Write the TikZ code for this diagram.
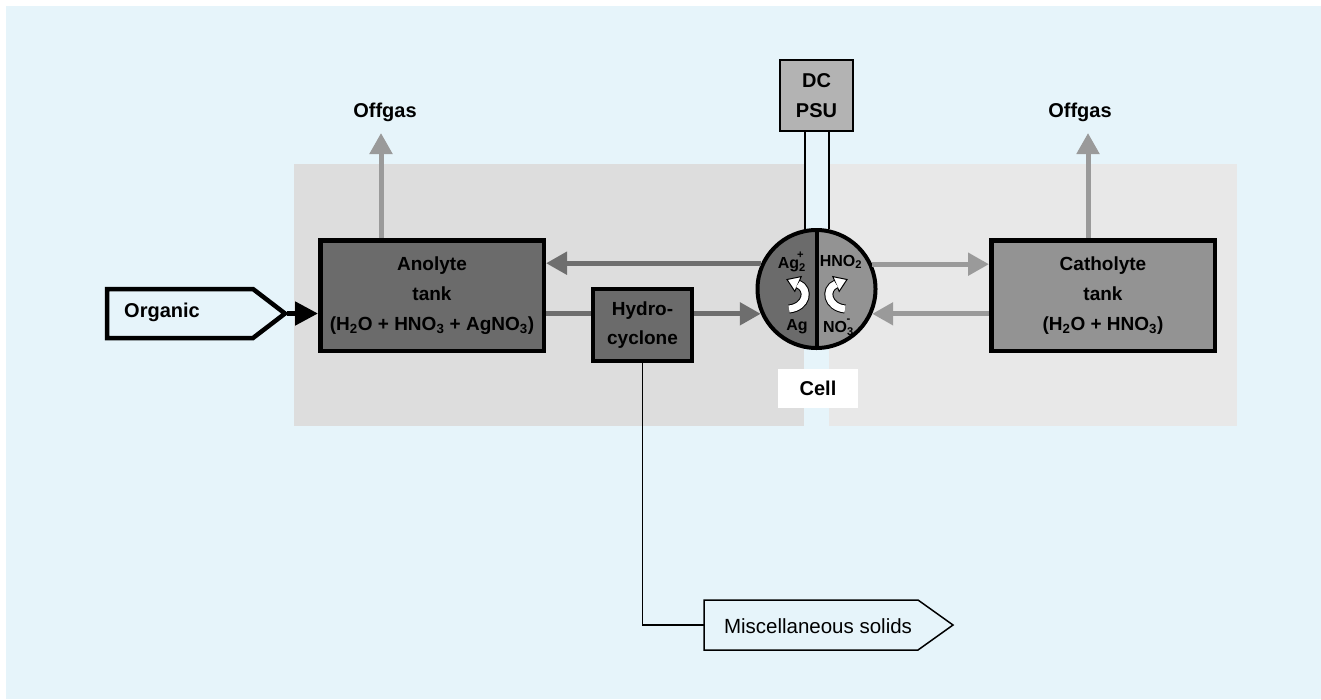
\documentclass[tikz,border=0pt]{standalone}
\usepackage{fontspec}
\setmainfont{Liberation Sans}
\usetikzlibrary{arrows.meta}
\definecolor{bgblue}{HTML}{E6F4FA}
\definecolor{panelL}{HTML}{DDDDDD}
\definecolor{panelR}{HTML}{E8E8E8}
\definecolor{darkbox}{HTML}{6B6B6B}
\definecolor{midbox}{HTML}{939393}
\definecolor{psufill}{HTML}{B3B3B3}
\definecolor{darkflow}{HTML}{6E6E6E}
\definecolor{lightflow}{HTML}{9A9A9A}
\begin{document}
\begin{tikzpicture}[x=1pt,y=-1pt,
  lbl/.style={font=\fontsize{20}{30}\selectfont\bfseries, inner sep=0pt},
  tank/.style={draw=black, line width=4.5pt, minimum width=223.5pt, minimum height=110.5pt,
    inner sep=0pt, align=center, font=\fontsize{19}{30}\selectfont\bfseries},
  ion/.style={font=\fontsize{16}{20}\selectfont\bfseries, inner sep=0pt},
  flowdark/.style={draw=darkflow, line width=5pt},
  flowlight/.style={draw=lightflow, line width=5pt},
  ahead/.style={-{Triangle[length=21pt,width=22pt]}},
  wire/.style={draw=black, line width=1.5pt},
  thinline/.style={draw=black, line width=1.5pt}]
\useasboundingbox (0,0) rectangle (1321,699);
\fill[white] (0,0) rectangle (1321,699);
\fill[bgblue] (6,6) rectangle (1321,699);
\fill[panelL] (294,164) rectangle (804,426);
\fill[panelR] (829,164) rectangle (1237,426);

% boxes
\node[tank, fill=darkbox] (anolyte) at (432,295.5)
  {Anolyte\\tank\\(H\textsubscript{2}O + HNO\textsubscript{3} + AgNO\textsubscript{3})};
\node[tank, fill=midbox] (catholyte) at (1103,295.5)
  {Catholyte\\tank\\(H\textsubscript{2}O + HNO\textsubscript{3})};
\node[draw=black, line width=4pt, fill=darkbox, minimum width=99pt, minimum height=72pt,
  inner sep=0pt, align=center, font=\fontsize{19}{29}\selectfont\bfseries] (hydro) at (642.5,325) {Hydro-\\cyclone};
\node[draw=black, line width=2pt, fill=psufill, minimum width=73pt, minimum height=71pt,
  inner sep=0pt, align=center, font=\fontsize{20}{30}\selectfont\bfseries] (psu) at (816.5,95.5) {DC\\PSU};

% cell
\node[circle, minimum size=118pt, inner sep=0pt, line width=4pt, draw=black,
  path picture={
    \fill[darkbox] (path picture bounding box.south west) rectangle (path picture bounding box.north);
    \fill[midbox] (path picture bounding box.south) rectangle (path picture bounding box.north east);
  }] (cell) at (816.5,289) {};
\draw[line width=4pt] (cell.north) -- (cell.south);
\node[ion] (agp) at (791,262) {Ag\textsubscript{2}\kern-0.55em\raisebox{0.5ex}{\textsuperscript{+}}};
\node[ion] (hno) at (841,262) {HNO\textsubscript{2}};
\node[ion] (ag) at (797,327) {Ag};
\node[ion] (no) at (837,327) {NO\textsubscript{3}\kern-0.45em\raisebox{0.5ex}{\textsuperscript{-}}};

% white curved arrows in the cell
\draw[line width=9pt] (789,309) .. controls (807,307) and (810,289) .. (798,284);
\filldraw[fill=white, draw=black, line width=1pt] (801.2,276.6) -- (787,279.5) -- (794.8,291.4) -- cycle;
\draw[line width=7pt, white] (789,309) .. controls (807,307) and (810,289) .. (798,284);
\draw[line width=9pt] (845,309) .. controls (827,307) and (824,289) .. (836,284);
\filldraw[fill=white, draw=black, line width=1pt] (832.8,276.6) -- (847,279.5) -- (839.2,291.4) -- cycle;
\draw[line width=7pt, white] (845,309) .. controls (827,307) and (824,289) .. (836,284);

% wires to PSU
\draw[wire] (cell.101.8) -- (cell.101.8 |- psu.south);
\draw[wire] (cell.78.2) -- (cell.78.2 |- psu.south);

% cell label
\node[lbl, fill=white, minimum width=80pt, minimum height=39pt] (celllbl) at (818,388.5) {Cell};

% flows
\draw[flowdark, ahead] (cell.155.8) -- (cell.155.8 -| anolyte.east);
\draw[flowdark] (cell.204.2 -| anolyte.east) -- (cell.204.2 -| hydro.west);
\draw[flowdark, ahead] (cell.204.2 -| hydro.east) -- (cell.204.2);
\draw[flowlight, ahead] (cell.24.2) -- (cell.24.2 -| catholyte.west);
\draw[flowlight, ahead] (cell.-24.2 -| catholyte.west) -- (cell.-24.2);

% offgas
\coordinate (offL) at (381,133);
\coordinate (offR) at (1088,133);
\node[lbl] (offgasL) at (385,112) {Offgas};
\node[lbl] (offgasR) at (1080,112) {Offgas};
\draw[flowlight, ahead] (anolyte.north -| offL) -- (offL);
\draw[flowlight, ahead] (catholyte.north -| offR) -- (offR);

% organic feed
\draw[line width=4.5pt, fill=bgblue] (107,289) -- (253,289) -- (285,313.5) -- (253,338) -- (107,338) -- cycle;
\coordinate (orgtip) at (287,313.5);
\node[lbl, anchor=west] (organic) at (124,312) {Organic};
\draw[line width=5pt, -{Triangle[length=23pt,width=23pt]}] (orgtip) -- (orgtip -| anolyte.west);

% miscellaneous solids
\draw[thinline, fill=bgblue] (704,600) -- (918,600) -- (953,625) -- (918,650) -- (704,650) -- cycle;
\coordinate (miscW) at (704,625);
\node[font=\fontsize{20.5}{24}\selectfont, inner sep=0pt] (misc) at (818,626) {Miscellaneous solids};
\draw[thinline] (hydro.south) |- (miscW);
\end{tikzpicture}
\end{document}
